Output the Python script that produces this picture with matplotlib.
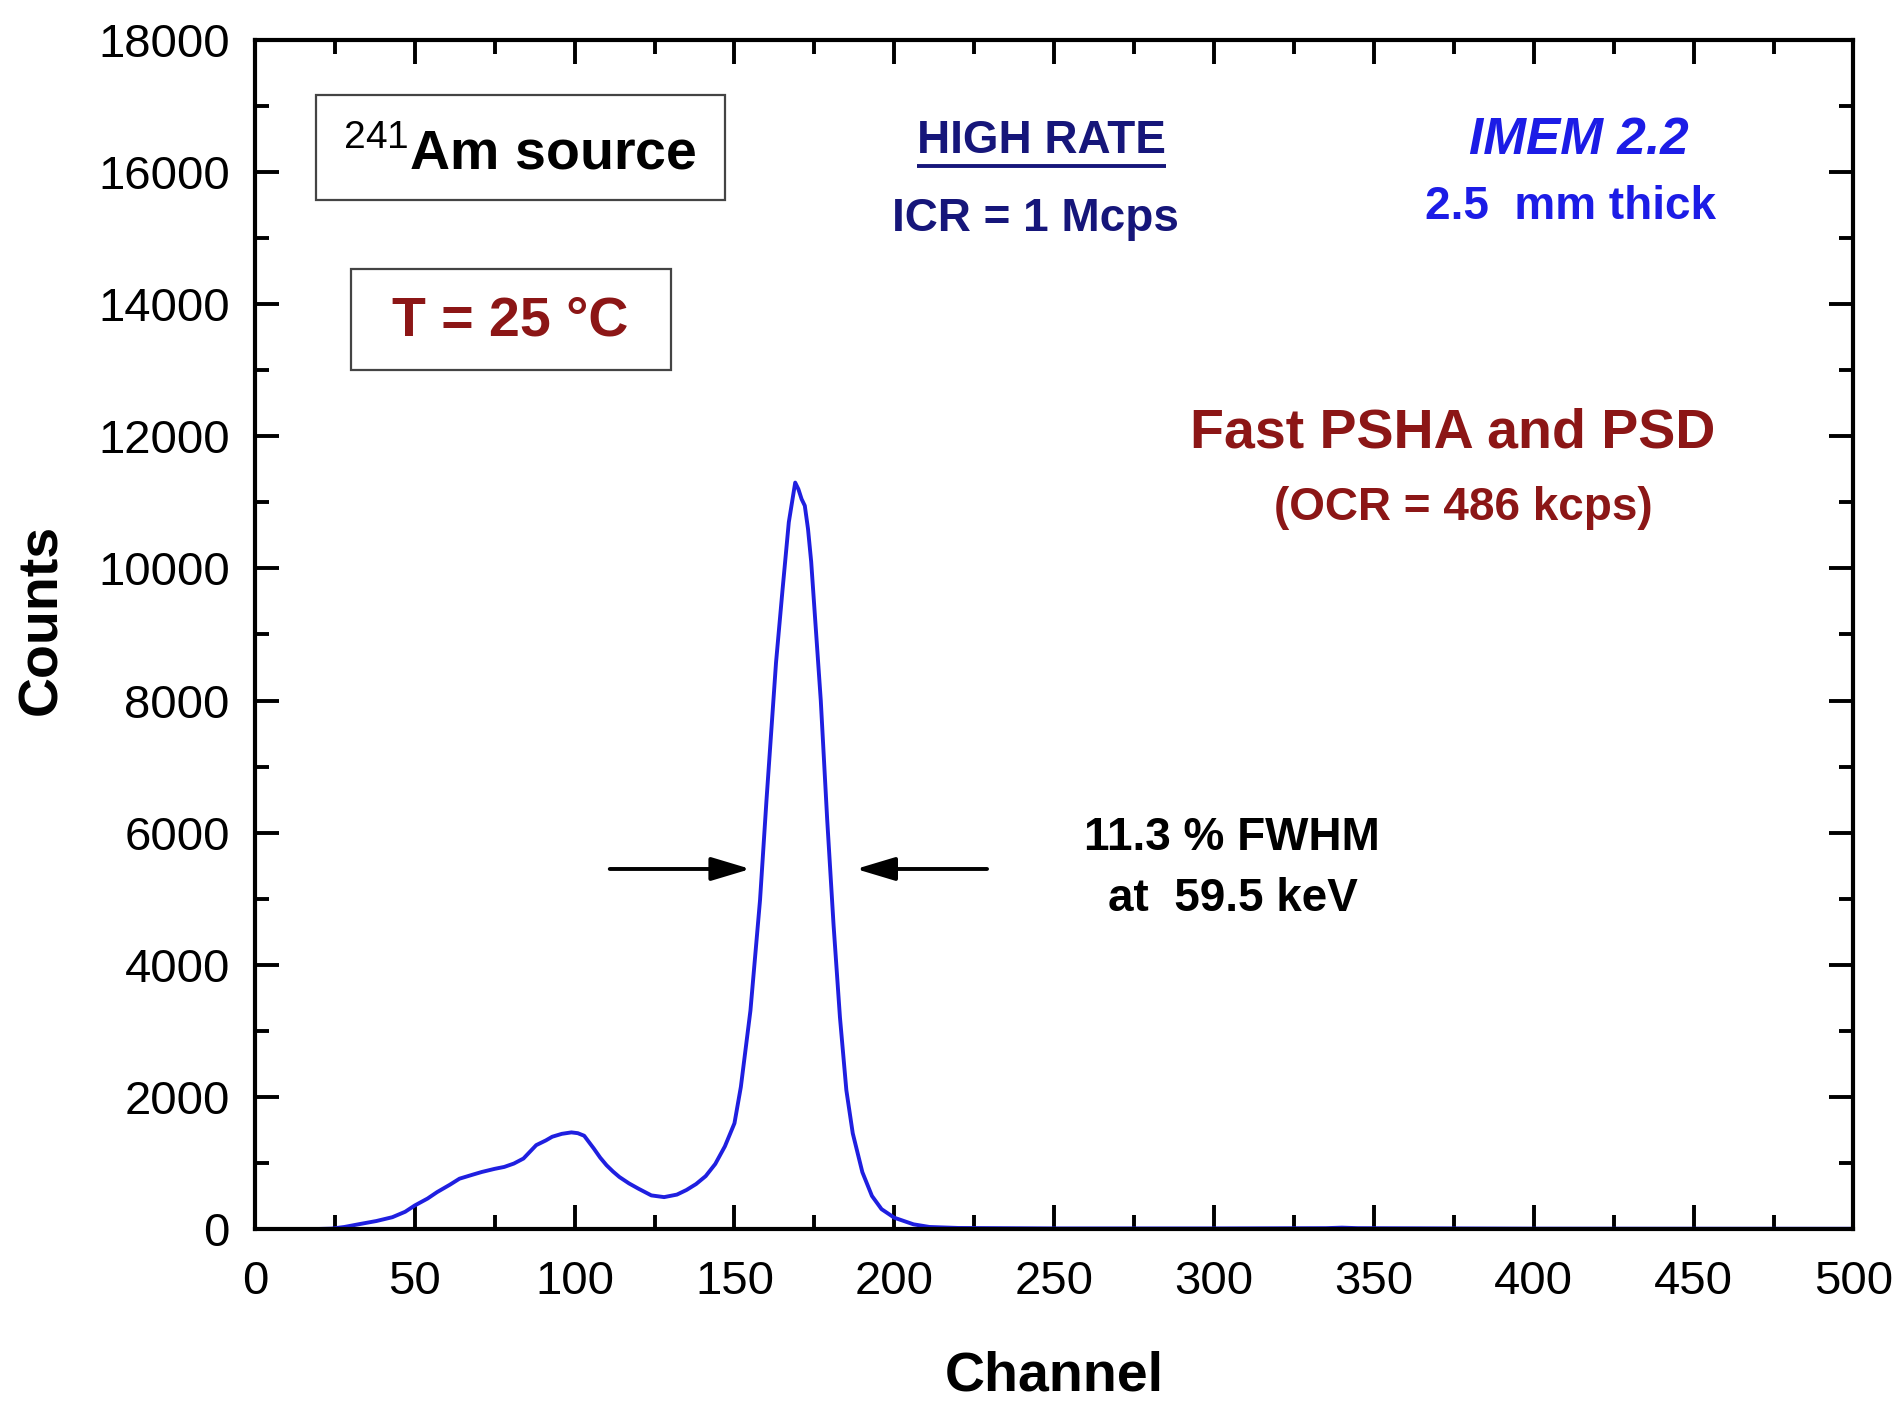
import matplotlib
matplotlib.use("Agg")
import matplotlib.pyplot as plt
from matplotlib.patches import Rectangle
from matplotlib.ticker import MultipleLocator

plt.rcParams['font.family'] = ['Liberation Sans', 'DejaVu Sans']
plt.rcParams['mathtext.fontset'] = 'custom'
plt.rcParams['mathtext.rm'] = 'Liberation Sans'

# 241Am spectrum, channel vs counts
channel = [0, 20, 24, 28, 33, 38, 43, 47, 50, 54, 57, 61, 64, 68, 71, 75, 78, 81,
           84, 88, 91, 93, 96, 99, 101, 103, 106, 108, 110, 112, 114, 117, 120,
           124, 128, 132, 135, 138, 141, 144, 147, 150, 152, 155, 158, 160, 163,
           165, 167, 168, 169, 170, 171, 172, 173, 174, 175, 177, 179, 181, 183,
           185, 187, 190, 193, 196, 200, 206, 211, 220, 250, 300, 335, 340, 345,
           400, 500]
counts = [0, 0, 5, 30, 76, 120, 178, 260, 355, 460, 558, 670, 761, 820, 863, 910,
          939, 990, 1066, 1269, 1340, 1396, 1440, 1462, 1450, 1411, 1218, 1080, 964,
          870, 787, 690, 609, 508, 482, 520, 590, 680, 800, 984, 1250, 1600, 2150,
          3307, 4980, 6480, 8574, 9658, 10700, 11000, 11300, 11200, 11050, 10950,
          10600, 10100, 9400, 8000, 6200, 4600, 3200, 2100, 1448, 860, 500, 300,
          170, 70, 30, 15, 8, 8, 12, 20, 12, 5, 3]

half_max = 5450
left_arrow = (111, 155)
right_arrow = (229, 188)

dark_red = '#8c1616'
navy = '#16167a'
blue = '#1c1ce6'

fig = plt.figure(figsize=(19.02, 14.05), dpi=100)
ax = fig.add_axes([0.134, 0.1253, 0.8405, 0.8462])

ax.plot(channel, counts, color='#1f1fe0', lw=2.8)

ax.set_xlim(0, 500)
ax.set_ylim(0, 18000)
ax.xaxis.set_major_locator(MultipleLocator(50))
ax.xaxis.set_minor_locator(MultipleLocator(25))
ax.yaxis.set_major_locator(MultipleLocator(2000))
ax.yaxis.set_minor_locator(MultipleLocator(1000))
ax.tick_params(which='both', direction='in', top=True, right=True, width=2.8)
ax.tick_params(which='major', length=17, labelsize=34)
ax.tick_params(which='minor', length=10)
ax.tick_params(axis='x', pad=22)
ax.tick_params(axis='y', pad=18)
for s in ax.spines.values():
    s.set_linewidth(3)

ax.set_xlabel('Channel', fontsize=40, fontweight='bold', labelpad=34)
ax.set_ylabel('Counts', fontsize=40, fontweight='bold')
ax.yaxis.set_label_coords(-0.117, 0.513)

# boxed labels
ax.add_patch(Rectangle((19, 15577), 128, 1598, fill=False, ec='#444444', lw=1.6))
ax.text(83, 16250, r'$^{241}$Am source', fontsize=40, fontweight='bold',
        ha='center', va='center')
ax.add_patch(Rectangle((30, 13005), 100, 1525, fill=False, ec='#444444', lw=1.6))
ax.text(80, 13740, 'T = 25 °C', fontsize=40, fontweight='bold', color=dark_red,
        ha='center', va='center')

hr = ax.text(246, 16470, 'HIGH RATE', fontsize=33, fontweight='bold', color=navy,
             ha='center', va='center')
ax.text(244, 15290, 'ICR = 1 Mcps', fontsize=33, fontweight='bold', color=navy,
        ha='center', va='center')
ax.text(414, 16480, 'IMEM 2.2', fontsize=37, fontweight='bold', style='italic',
        color=blue, ha='center', va='center')
ax.text(411.5, 15470, '2.5  mm thick', fontsize=33, fontweight='bold', color=blue,
        ha='center', va='center')
ax.text(374.5, 12040, 'Fast PSHA and PSD', fontsize=40, fontweight='bold',
        color=dark_red, ha='center', va='center')
ax.text(378, 10920, '(OCR = 486 kcps)', fontsize=33, fontweight='bold',
        color=dark_red, ha='center', va='center')
ax.text(305.5, 5920, '11.3 % FWHM', fontsize=33, fontweight='bold',
        ha='center', va='center')
ax.text(306, 4990, 'at  59.5 keV', fontsize=33, fontweight='bold',
        ha='center', va='center')

# FWHM arrows
arrow_kw = dict(arrowstyle='-|>,head_length=2.4,head_width=0.72', color='black',
                lw=2.8, shrinkA=0, shrinkB=0)
ax.annotate('', xy=(left_arrow[1], half_max), xytext=(left_arrow[0], half_max),
            arrowprops=arrow_kw)
ax.annotate('', xy=(right_arrow[1], half_max), xytext=(right_arrow[0], half_max),
            arrowprops=arrow_kw)

# underline under HIGH RATE
fig.canvas.draw()
bb = hr.get_window_extent().transformed(ax.transData.inverted())
ax.plot([bb.x0, bb.x1], [bb.y0 - 50, bb.y0 - 50], color=navy, lw=2.8,
        solid_capstyle='butt')

fig.savefig('out.png', dpi=100)
